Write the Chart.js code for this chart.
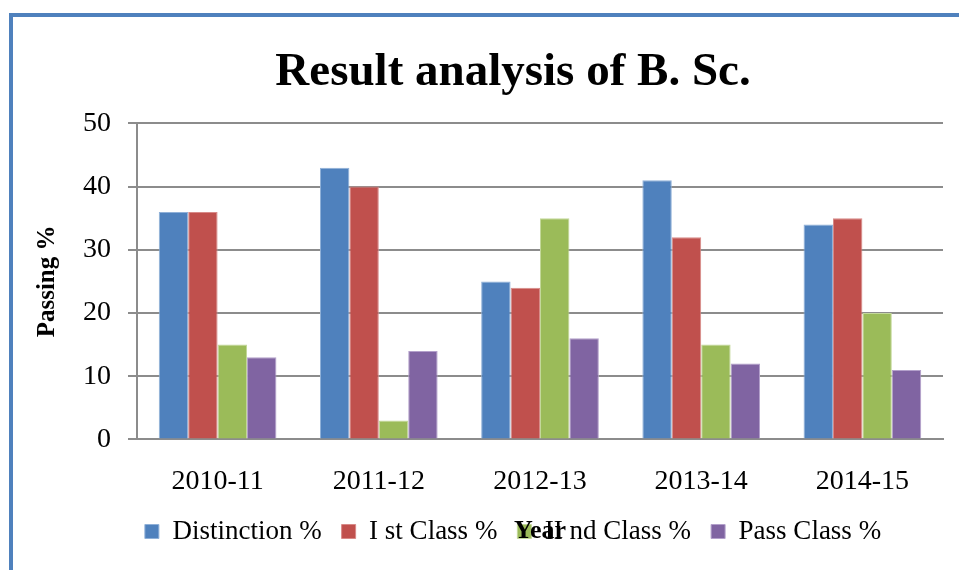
<!DOCTYPE html>
<html>
<head>
<meta charset="utf-8">
<title>Result analysis of B. Sc.</title>
<script src="https://cdn.jsdelivr.net/npm/chart.js@4.4.1/dist/chart.umd.min.js"></script>
<style>
  html, body { margin: 0; padding: 0; background: #fff; overflow: hidden; }
  body { width: 959px; height: 570px; position: relative; }
  #frame {
    position: absolute; left: 9px; top: 13px; width: 1100px; height: 700px;
    border-left: 4px solid #4f81bd; border-top: 4px solid #4f81bd;
  }
  #wrap { position: absolute; left: 0; top: 0; width: 1002px; height: 570px; }
</style>
</head>
<body>
<div id="frame"></div>
<div id="wrap"><canvas id="resultChart"></canvas></div>
<script>
const years = ["2010-11", "2011-12", "2012-13", "2013-14", "2014-15"];
const distinction = [36, 43, 25, 41, 34];
const firstClass = [36, 40, 24, 32, 35];
const secondClass = [15, 3, 35, 15, 20];
const passClass = [13, 14, 16, 12, 11];
const yTicks = [0, 10, 20, 30, 40, 50];

const serif = "'Liberation Serif', 'DejaVu Serif', serif";

// Excel put the x axis title "Year" on top of the legend; keep that look
const yearOverLegend = {
  id: "yearOverLegend",
  afterDraw(chart) {
    const boxes = chart.legend.legendHitBoxes;
    if (!boxes || !boxes.length) return;
    const hb = boxes[0];
    const ctx = chart.ctx;
    const area = chart.chartArea;
    ctx.save();
    ctx.font = "bold 26px " + serif;
    ctx.fillStyle = "#000";
    ctx.textAlign = "center";
    ctx.textBaseline = "middle";
    ctx.fillText("Year", (area.left + area.right) / 2, hb.top + hb.height / 2);
    ctx.restore();
  },
};

function renderChart() {
  const ctx = document.getElementById("resultChart").getContext("2d");
  const bar = (label, data, color, edge) => ({
    label: label,
    data: data,
    backgroundColor: color,
    borderColor: edge,
    borderWidth: 1,
    categoryPercentage: 0.73,
    barPercentage: 1.0,
  });

  new Chart(ctx, {
    type: "bar",
    data: {
      labels: years,
      datasets: [
        bar("Distinction %", distinction, "#4f81bd", "#8fb0d8"),
        bar("I st Class %", firstClass, "#c0504d", "#d88a88"),
        bar("II nd Class %", secondClass, "#9bbb59", "#c3d89a"),
        bar("Pass Class %", passClass, "#8064a2", "#b3a0cb"),
      ],
    },
    options: {
      responsive: true,
      maintainAspectRatio: false,
      animation: false,
      layout: { padding: { left: 24, right: 0, top: 20, bottom: 15 } },
      plugins: {
        title: {
          display: true,
          text: "Result analysis of B. Sc.",
          color: "#000",
          font: { family: serif, size: 47, weight: "bold" },
          padding: { top: 25, bottom: 22 },
        },
        legend: {
          position: "bottom",
          labels: {
            color: "#000",
            font: { family: serif, size: 27 },
            boxWidth: 14,
            boxHeight: 14,
            padding: 20,
          },
        },
        tooltip: { enabled: false },
      },
      scales: {
        x: {
          grid: { display: false, drawTicks: false },
          border: { display: true, color: "#8c8c8c", width: 2 },
          ticks: { color: "#000", font: { family: serif, size: 28 }, padding: 25 },
          afterFit(scale) {
            scale.height -= 25;
          },
        },
        y: {
          min: 0,
          max: 50,
          afterBuildTicks(scale) {
            scale.ticks = yTicks.map((v) => ({ value: v }));
          },
          grid: { color: "#8c8c8c", lineWidth: 2, tickLength: 9, drawTicks: true },
          border: { display: true, color: "#8c8c8c", width: 2 },
          ticks: { color: "#000", font: { family: serif, size: 28 }, padding: 17 },
          title: {
            display: true,
            text: "Passing %",
            color: "#000",
            font: { family: serif, size: 25, weight: "bold" },
            padding: { top: 9, bottom: 20 },
          },
          afterFit(scale) {
            scale.width = 113;
          },
        },
        y2: {
          position: "right",
          display: true,
          grid: { display: false },
          border: { display: false },
          ticks: { display: false },
          afterFit(scale) {
            scale.width = 59;
          },
        },
      },
    },
    plugins: [yearOverLegend],
  });
}

document.addEventListener("DOMContentLoaded", () => {
  renderChart();
});
</script>
</body>
</html>
